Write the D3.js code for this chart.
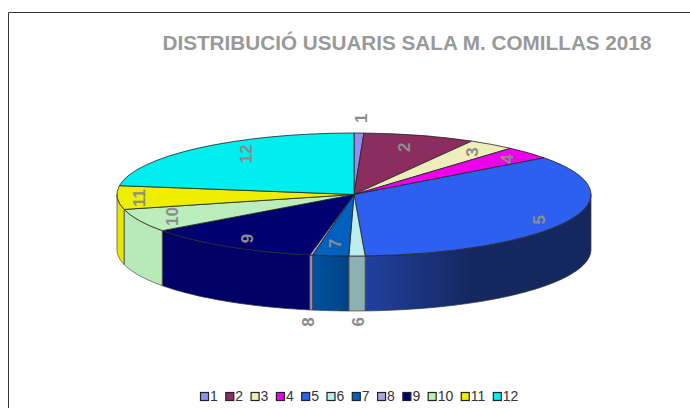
<!DOCTYPE html>
<html><head><meta charset="utf-8">
<script src="https://cdn.jsdelivr.net/npm/d3@7/dist/d3.min.js"></script>
<style>html,body{margin:0;padding:0;background:#fff}svg{display:block}text{font-family:"Liberation Sans",Arial,sans-serif}</style>
</head><body><svg id="c" width="690" height="408"></svg>
<script>
const titleText = "DISTRIBUCIÓ USUARIS SALA M. COMILLAS 2018";
const categories = ["1","2","3","4","5","6","7","8","9","10","11","12"];
const shares = [0.67,7.6,3.2,3.35,34.43,1.1,2.45,0.2,12.0,6.1,6.2,22.7];
const topColors = ["#9090f0","#8b2d5f","#eeeebd","#ee00ee","#2d5ff0","#bdeeee","#0060c0","#a8a8e0","#000070","#bbeebb","#eeee00","#00eeee"];
const sideColors = ["#7070c0","#6b2048","#c0c090","#c000c0","#14275f","#8fb0b0","#004a8f","#9090c8","#000066","#b8eab8","#e6e600","#00c0c0"];
const labelNudge = [[3,-24],[-6,3],[1,0],[5,0],[3,3],[1,75],[1,-3],[-10,76],[1,0],[0,0],[-14,1],[24,-1]];

const svg = d3.select("#c");
const cx = 354, cy = 194.5, rx = 237, ry = 61.5, depth = 55;
const sx = d3.scaleLinear().domain([-1,1]).range([cx-rx,cx+rx]);
const sy = d3.scaleLinear().domain([-1,1]).range([cy-ry,cy+ry]);
const pt = (a,f=1,dy=0)=>[sx(Math.sin(a)*f), sy(-Math.cos(a)*f)+dy];

// frame
svg.append("path").attr("d","M8.5,408V12.5H690").attr("fill","none").attr("stroke","#333").attr("stroke-width",1);

svg.append("text").attr("x",162.5).attr("y",50).attr("font-size",20.7).attr("font-weight","bold").attr("fill","#999").text(titleText);

const defs = svg.append("defs");
const g5 = defs.append("linearGradient").attr("id","g5").attr("gradientUnits","userSpaceOnUse")
  .attr("x1",sx(0.05)).attr("x2",sx(0.5)).attr("y1",0).attr("y2",0);
g5.append("stop").attr("offset",0).attr("stop-color","#21409f");
g5.append("stop").attr("offset",1).attr("stop-color","#14275f");
const g7 = defs.append("linearGradient").attr("id","g7").attr("gradientUnits","userSpaceOnUse")
  .attr("x1",sx(-0.18)).attr("x2",sx(-0.02)).attr("y1",0).attr("y2",0);
g7.append("stop").attr("offset",0).attr("stop-color","#00529f");
g7.append("stop").attr("offset",1).attr("stop-color","#004385");

const arcs = d3.pie().sort(null).value(d=>d)(shares);

// side walls (front half only)
const sides = svg.append("g");
arcs.forEach((d,i)=>{
  const a0 = Math.max(d.startAngle, Math.PI/2), a1 = Math.min(d.endAngle, 3*Math.PI/2);
  if(a1<=a0) return;
  const steps = d3.range(0,61).map(k=>a0+(a1-a0)*k/60);
  const top = steps.map(a=>pt(a));
  const bot = steps.map(a=>pt(a,1,depth)).reverse();
  sides.append("path").attr("d",d3.line()(top.concat(bot))+"Z")
    .attr("fill", i===4?"url(#g5)":i===6?"url(#g7)":sideColors[i])
    .attr("stroke","#3a3a3a").attr("stroke-width",0.7).attr("stroke-linejoin","round");
});

// top face
const arcGen = d3.arc().innerRadius(0).outerRadius(1);
const tops = svg.append("g").attr("transform",`translate(${cx},${cy}) scale(${rx},${ry})`);
arcs.forEach((d,i)=>{
  tops.append("path").attr("d",arcGen(d)).attr("fill",topColors[i])
    .attr("stroke","#222").attr("stroke-width",0.8).attr("vector-effect","non-scaling-stroke");
});

// rotated labels
arcs.forEach((d,i)=>{
  const p = pt((d.startAngle+d.endAngle)/2,0.85);
  svg.append("text")
    .attr("transform",`translate(${p[0]+labelNudge[i][0]},${p[1]+labelNudge[i][1]}) rotate(-90)`)
    .attr("text-anchor","middle").attr("dy","0.36em")
    .attr("font-size",17).attr("font-weight","bold").attr("fill","#8c8c8c").text(categories[i]);
});

// legend
let lx = 200;
const legend = svg.append("g");
categories.forEach((c,i)=>{
  legend.append("rect").attr("x",lx+0.5).attr("y",392.5).attr("width",8).attr("height",8)
    .attr("fill",topColors[i]).attr("stroke","#222").attr("stroke-width",1.2);
  const t = legend.append("text").attr("x",lx+10).attr("y",401).attr("font-size",14).attr("fill","#333").text(c);
  lx += 10 + t.node().getComputedTextLength() + 7.5;
});
</script></body></html>
